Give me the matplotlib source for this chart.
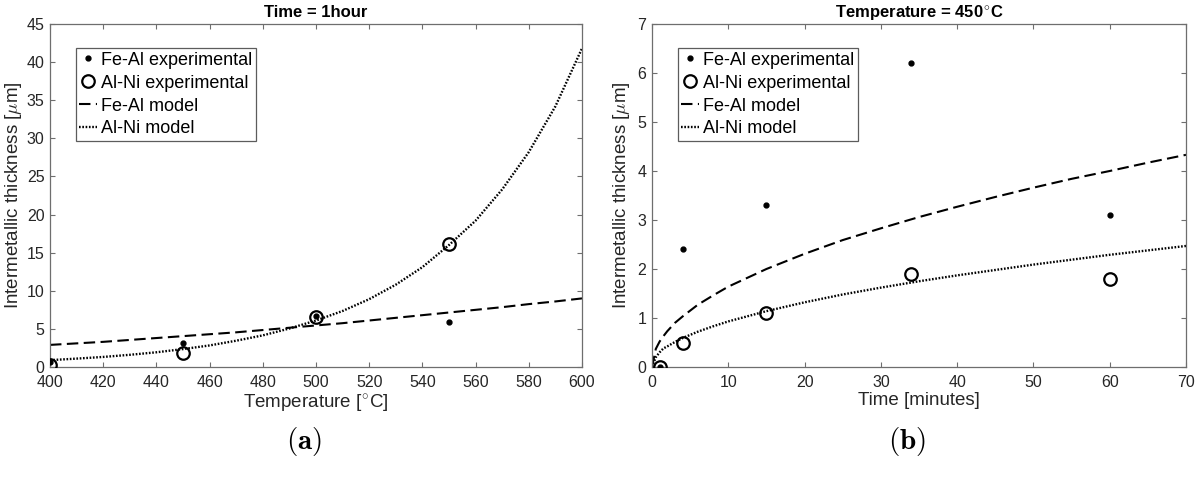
import matplotlib
matplotlib.use("Agg")
import matplotlib.pyplot as plt

plt.rcParams['font.family'] = ['Liberation Sans', 'DejaVu Sans']
plt.rcParams['mathtext.fontset'] = 'cm'

# ---- (a) thickness vs temperature, 1 hour anneal ----
temp_exp = [400, 450, 500, 550]
feal_temp_exp = [0.6, 3.1, 6.7, 5.9]
alni_temp_exp = [0.3, 1.8, 6.5, 16.2]

temp_model = [400, 410, 420, 430, 440, 450, 460, 470, 480, 490, 500,
              510, 520, 530, 540, 550, 560, 570, 580, 590, 600]
feal_temp_model = [2.9, 3.1, 3.3, 3.55, 3.8, 4.05, 4.3, 4.55, 4.85, 5.15, 5.45,
                   5.75, 6.1, 6.45, 6.8, 7.15, 7.5, 7.85, 8.25, 8.6, 9.0]
alni_temp_model = [0.9, 1.1, 1.32, 1.6, 1.93, 2.35, 2.83, 3.45, 4.15, 5.05, 6.1,
                   7.35, 8.9, 10.8, 13.1, 16.0, 19.2, 23.3, 28.2, 34.2, 41.8]

# ---- (b) thickness vs time, 450 C ----
time_exp = [1, 4, 15, 34, 60]
feal_time_exp = [0.0, 2.4, 3.3, 6.2, 3.1]
alni_time_exp = [0.0, 0.5, 1.1, 1.9, 1.8]

time_model = [0, 0.5, 1, 1.5, 2, 3, 4, 6, 8, 10, 15, 20, 25, 30, 35, 40, 45, 50, 55, 60, 65, 70]
feal_time_model = [0.0, 0.37, 0.52, 0.63, 0.73, 0.9, 1.03, 1.27, 1.46, 1.64, 2.0, 2.31,
                   2.59, 2.83, 3.06, 3.27, 3.47, 3.66, 3.84, 4.0, 4.17, 4.33]
alni_time_model = [0.0, 0.2, 0.3, 0.38, 0.42, 0.51, 0.59, 0.72, 0.83, 0.93, 1.14, 1.32,
                   1.48, 1.62, 1.75, 1.87, 1.98, 2.09, 2.19, 2.29, 2.38, 2.47]

labels = ['Fe-Al experimental', 'Al-Ni experimental', 'Fe-Al model', 'Al-Ni model']

TXT = '#262626'
SPINE = '#6e6e6e'

fig = plt.figure(figsize=(12.01, 4.94), dpi=100)
W, H = 1201, 494
ax1 = fig.add_axes([50 / W, 1 - 367 / H, 532 / W, 343 / H])
ax2 = fig.add_axes([652 / W, 1 - 367 / H, 534 / W, 343 / H])


def draw(ax, xe, fe, ae, xm, fm, am):
    h1, = ax.plot(xe, fe, 'o', color='black', ms=3.5, mec='black', zorder=4)
    h2, = ax.plot(xe, ae, 'o', mfc='none', mec='black', ms=9, mew=1.6, zorder=3)
    h3, = ax.plot(xm, fm, color='black', lw=1.5, dashes=(5.5, 2.6), zorder=2)
    h4, = ax.plot(xm, am, color='black', lw=1.7, dashes=(0.7, 0.7), zorder=2)
    return [h1, h2, h3, h4]


def style(ax):
    ax.tick_params(direction='in', top=True, right=True, length=3.5, width=0.8,
                   colors=SPINE, labelcolor=TXT, labelsize=11.5)
    ax.tick_params(axis='x', pad=5.5)
    ax.tick_params(axis='y', pad=4)
    for s in ax.spines.values():
        s.set_color(SPINE)
        s.set_linewidth(0.9)


hs = draw(ax1, temp_exp, feal_temp_exp, alni_temp_exp,
          temp_model, feal_temp_model, alni_temp_model)
ax1.set_xlim(400, 600)
ax1.set_ylim(0, 45)
ax1.set_xticks(range(400, 601, 20))
ax1.set_yticks(range(0, 46, 5))
style(ax1)
ax1.set_title('Time = 1hour', fontsize=12, fontweight='bold', color='black', pad=5)
ax1.set_xlabel('Temperature [$^{\\circ}$C]', fontsize=13.5, color=TXT, labelpad=2)
ax1.set_ylabel('Intermetallic thickness [$\\mu$m]', fontsize=13.5, color=TXT, labelpad=2)

hs2 = draw(ax2, time_exp, feal_time_exp, alni_time_exp,
           time_model, feal_time_model, alni_time_model)
ax2.set_xlim(0, 70)
ax2.set_ylim(0, 7)
ax2.set_xticks(range(0, 71, 10))
ax2.set_yticks(range(0, 8, 1))
style(ax2)
ax2.set_title('Temperature = 450$^{\\circ}$C', fontsize=12, fontweight='bold',
              color='black', pad=5)
ax2.set_xlabel('Time [minutes]', fontsize=13.5, color=TXT, labelpad=2)
ax2.set_ylabel('Intermetallic thickness [$\\mu$m]', fontsize=13.5, color=TXT, labelpad=4)

for ax, h in ((ax1, hs), (ax2, hs2)):
    leg = ax.legend(h, labels, loc='upper left', bbox_to_anchor=(0.048, 0.93),
                    fontsize=13, frameon=True, fancybox=False, handlelength=1.0,
                    handletextpad=0.2, labelspacing=0.33, borderpad=0.2,
                    borderaxespad=0.0, labelcolor='black')
    leg.get_frame().set_edgecolor('#333333')
    leg.get_frame().set_linewidth(0.9)

fig.text(304 / W, 1 - 441 / H, r'$\mathbf{(a)}$', ha='center', va='center', fontsize=21)
fig.text(907 / W, 1 - 441 / H, r'$\mathbf{(b)}$', ha='center', va='center', fontsize=21)

fig.savefig('out.png', dpi=100)
